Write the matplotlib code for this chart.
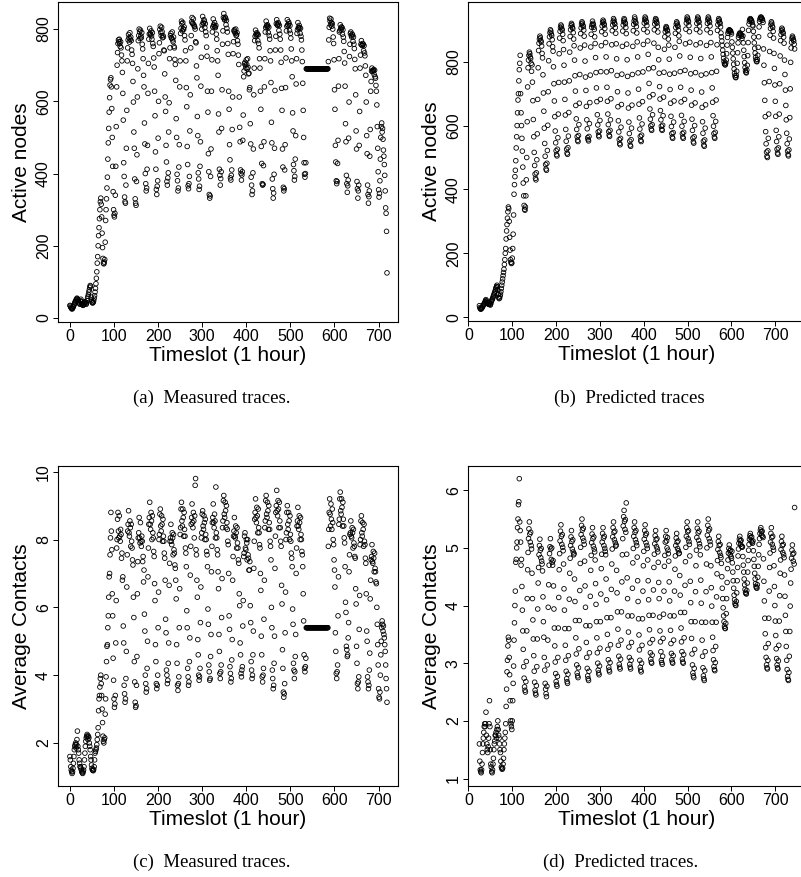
"""
Four-panel trace comparison: active nodes and average contacts per hourly
timeslot, measured (left) against predicted (right), drawn R-style with open
circle markers and a caption under every panel.
"""
import matplotlib

matplotlib.use("Agg")
import matplotlib.pyplot as plt
import numpy as np

plt.rcParams["font.family"] = ["Liberation Sans", "DejaVu Sans"]

# measured traces start at timeslot 0, predictions start after one day of history
MEASURED_START = 0
PREDICTED_START = 25

# one row per day (24 hourly values)
active_measured = [
    35, 33, 30, 28, 26, 25, 27, 30, 32, 36, 38, 42, 45, 47, 50, 52, 55, 53, 50, 48, 45, 42, 40, 38,
    48, 52, 45, 40, 38, 36, 35, 37, 40, 42, 45, 44, 40, 38, 42, 48, 55, 60, 65, 72, 78, 85, 90, 88,
    58, 50, 45, 42, 42, 44, 48, 55, 62, 72, 82, 95, 110, 128, 152, 170, 200, 228, 250, 275, 300, 322, 332, 315,
    280, 235, 195, 165, 152, 150, 155, 162, 210, 270, 300, 330, 360, 390, 440, 485, 525, 570, 610, 645, 660, 665, 640, 580,
    500, 420, 350, 300, 285, 280, 290, 340, 420, 530, 640, 700, 735, 760, 770, 765, 772, 760, 752, 765, 748, 728, 712, 680,
    622, 548, 430, 392, 335, 322, 318, 368, 470, 575, 712, 748, 770, 785, 776, 764, 790, 772, 778, 768, 742, 730, 705, 655,
    598, 515, 470, 385, 330, 318, 312, 378, 452, 612, 690, 768, 782, 800, 792, 774, 797, 781, 776, 790, 758, 745, 718, 672,
    640, 540, 482, 400, 372, 352, 360, 412, 478, 622, 705, 772, 786, 802, 788, 785, 795, 781, 772, 790, 760, 752, 720, 695,
    628, 560, 460, 412, 356, 342, 365, 380, 498, 600, 732, 762, 799, 808, 791, 782, 805, 793, 776, 782, 778, 742, 740, 676,
    612, 572, 478, 432, 378, 368, 388, 402, 515, 596, 718, 748, 782, 788, 776, 774, 792, 770, 765, 778, 752, 748, 716, 702,
    658, 552, 500, 398, 380, 352, 360, 418, 480, 640, 712, 788, 802, 822, 815, 795, 818, 801, 799, 806, 782, 770, 740, 712,
    638, 585, 475, 425, 366, 358, 372, 392, 518, 618, 748, 782, 820, 832, 816, 815, 828, 812, 808, 806, 800, 765, 762, 698,
    665, 558, 505, 402, 385, 356, 365, 420, 488, 642, 722, 800, 812, 835, 818, 815, 826, 822, 804, 815, 792, 782, 750, 725,
    628, 570, 455, 405, 342, 332, 338, 392, 468, 628, 715, 792, 806, 828, 812, 808, 818, 806, 804, 810, 786, 772, 740, 712,
    672, 565, 515, 412, 395, 368, 386, 405, 525, 632, 758, 795, 832, 843, 828, 825, 833, 830, 812, 824, 802, 792, 760, 730,
    628, 578, 480, 438, 388, 382, 395, 410, 522, 612, 732, 765, 795, 798, 792, 788, 800, 782, 784, 790, 768, 758, 728, 702,
    612, 528, 488, 410, 400, 382, 396, 405, 492, 562, 668, 684, 704, 708, 700, 692, 715, 702, 690, 718, 694, 676, 678, 632,
    638, 538, 482, 390, 368, 342, 352, 402, 468, 618, 692, 768, 780, 797, 786, 782, 790, 786, 768, 784, 760, 748, 718, 692,
    628, 578, 475, 428, 372, 368, 370, 422, 488, 640, 718, 792, 804, 822, 810, 806, 812, 808, 790, 805, 782, 772, 740, 712,
    652, 542, 485, 385, 358, 332, 346, 398, 470, 630, 742, 780, 815, 826, 812, 810, 818, 814, 796, 810, 786, 772, 742, 708,
    636, 575, 468, 418, 362, 352, 358, 410, 480, 638, 720, 795, 808, 826, 812, 810, 820, 815, 796, 810, 788, 775, 745, 712,
    668, 568, 518, 425, 408, 382, 392, 440, 505, 648, 718, 788, 798, 818, 804, 802, 810, 804, 788, 802, 780, 770, 742, 710,
    650, 575, 500, 430, 398, 390, 400, 430, 690, 690, 690, 690, 690, 690, 690, 690, 690, 690, 690, 690, 690, 690, 690, 690,
    690, 690, 690, 690, 690, 690, 690, 690, 690, 690, 690, 690, 690, 690, 690, 690, 690, 690, 690, 690, 690, 690, 690, 690,
    690, 690, 690, 690, 690, 690, 690, 690, 690, 690, 710, 770, 805, 830, 822, 812, 828, 818, 808, 815, 800, 778, 760, 715,
    632, 578, 478, 432, 380, 372, 378, 428, 492, 642, 718, 792, 796, 812, 802, 798, 806, 804, 786, 798, 778, 766, 738, 706,
    642, 538, 488, 395, 372, 348, 366, 382, 498, 598, 724, 758, 788, 792, 782, 778, 786, 784, 766, 778, 758, 746, 716, 690,
    618, 518, 468, 378, 358, 332, 352, 368, 478, 572, 692, 728, 758, 768, 756, 754, 760, 758, 740, 754, 734, 726, 698, 672,
    598, 505, 455, 368, 342, 318, 336, 352, 448, 522, 628, 655, 684, 692, 682, 684, 686, 688, 674, 686, 668, 664, 644, 628,
    590, 530, 470, 405, 355, 335, 345, 380, 440, 500, 530, 540, 515, 525, 495, 465, 448, 425, 395, 352, 305, 290, 240, 125,
]

active_predicted = [
    36, 30, 27, 25, 26, 28, 30, 32, 35, 38, 40, 42, 45, 48, 52, 55, 50, 47, 45, 44, 42, 40, 42, 45,
    40, 38, 42, 48, 52, 55, 58, 62, 66, 70, 74, 78, 82, 88, 92, 96, 100, 95, 85, 72, 62, 58, 60, 66,
    72, 80, 90, 100, 110, 120, 130, 140, 150, 165, 180, 200, 215, 245, 270, 290, 310, 330, 345, 340, 300, 250, 210, 180,
    172, 168, 170, 185, 215, 260, 320, 385, 415, 440, 460, 490, 530, 565, 600, 640, 680, 700, 740, 775, 795, 820, 700, 640,
    600, 560, 520, 470, 420, 380, 350, 338, 335, 345, 380, 430, 500, 612, 721, 781, 805, 820, 830, 825, 815, 810, 795, 770,
    790, 736, 678, 619, 565, 516, 475, 448, 435, 430, 452, 493, 574, 682, 781, 835, 858, 871, 880, 875, 866, 862, 849, 826,
    812, 759, 702, 645, 592, 544, 504, 478, 464, 460, 482, 522, 601, 706, 803, 856, 878, 891, 900, 896, 887, 882, 869, 847,
    833, 784, 731, 677, 628, 583, 546, 521, 509, 505, 526, 562, 636, 735, 825, 874, 895, 907, 915, 911, 903, 899, 886, 866,
    838, 789, 736, 682, 633, 588, 551, 526, 514, 510, 531, 567, 641, 740, 830, 879, 900, 912, 920, 916, 908, 904, 891, 871,
    850, 805, 756, 708, 663, 621, 588, 565, 554, 550, 569, 603, 670, 760, 843, 888, 906, 918, 925, 921, 914, 910, 899, 880,
    852, 802, 752, 710, 660, 618, 590, 562, 556, 552, 566, 606, 672, 758, 846, 886, 908, 916, 927, 920, 916, 908, 901, 878,
    857, 813, 766, 718, 675, 634, 602, 580, 569, 565, 583, 616, 682, 769, 850, 894, 912, 923, 930, 926, 919, 915, 904, 886,
    860, 815, 768, 720, 676, 636, 603, 581, 570, 566, 585, 618, 684, 772, 853, 897, 915, 926, 935, 930, 922, 918, 907, 889,
    856, 809, 757, 706, 659, 615, 580, 556, 544, 540, 560, 595, 666, 761, 848, 896, 915, 927, 935, 931, 923, 919, 907, 888,
    855, 806, 754, 702, 655, 611, 575, 551, 539, 535, 556, 592, 664, 760, 848, 897, 917, 928, 940, 934, 925, 921, 910, 890,
    862, 815, 765, 714, 667, 624, 589, 566, 554, 550, 570, 605, 675, 768, 854, 901, 921, 932, 940, 936, 928, 924, 913, 893,
    865, 823, 778, 732, 690, 652, 620, 599, 589, 585, 603, 634, 697, 781, 858, 900, 918, 928, 935, 932, 925, 921, 911, 893,
    845, 806, 764, 722, 683, 647, 618, 598, 588, 585, 601, 631, 689, 767, 839, 878, 894, 904, 910, 907, 900, 897, 887, 871,
    852, 808, 761, 713, 670, 629, 597, 575, 564, 560, 578, 611, 677, 764, 845, 889, 907, 918, 925, 921, 914, 910, 899, 881,
    864, 818, 769, 720, 674, 632, 598, 575, 564, 560, 579, 613, 682, 773, 856, 902, 921, 932, 940, 936, 929, 925, 913, 894,
    861, 814, 762, 711, 664, 620, 585, 561, 549, 545, 565, 600, 671, 766, 853, 901, 920, 932, 940, 936, 928, 924, 912, 893,
    859, 810, 758, 705, 657, 612, 576, 551, 539, 535, 555, 592, 665, 762, 851, 900, 920, 932, 940, 936, 928, 924, 912, 891,
    860, 815, 766, 718, 673, 631, 598, 575, 564, 560, 579, 613, 680, 770, 853, 898, 916, 928, 935, 931, 924, 920, 909, 890,
    878, 865, 851, 836, 823, 811, 801, 794, 791, 790, 796, 805, 825, 852, 876, 889, 895, 898, 900, 899, 897, 896, 892, 887,
    862, 845, 827, 809, 792, 777, 764, 756, 751, 750, 757, 770, 795, 828, 859, 876, 883, 887, 890, 889, 886, 884, 880, 873,
    901, 881, 859, 836, 816, 797, 782, 772, 767, 765, 774, 789, 819, 860, 898, 918, 927, 932, 935, 933, 930, 928, 923, 915,
    912, 895, 877, 859, 842, 827, 814, 806, 801, 800, 807, 820, 845, 878, 909, 926, 933, 937, 940, 939, 936, 934, 930, 923,
    840, 789, 734, 679, 628, 581, 543, 517, 504, 500, 521, 560, 636, 738, 832, 883, 904, 917, 925, 921, 912, 908, 895, 874,
    826, 779, 727, 676, 629, 585, 550, 526, 514, 510, 530, 565, 636, 731, 818, 866, 885, 897, 905, 901, 893, 889, 877, 858,
    805, 760, 711, 663, 618, 576, 543, 520, 509, 505, 524, 558, 625, 715, 798, 843, 861, 873, 880, 876, 869, 865, 855, 840,
]

contacts_measured = [
    1.6, 1.5, 1.3, 1.2, 1.15, 1.1, 1.15, 1.25, 1.4, 1.6, 1.8, 1.9, 1.95, 2.0, 1.85, 1.95, 2.1, 2.35, 1.9, 1.8, 1.7, 1.5, 1.4, 1.3,
    1.3, 1.25, 1.2, 1.15, 1.12, 1.1, 1.15, 1.2, 1.3, 1.5, 1.7, 1.9, 2.05, 2.15, 2.2, 2.25, 2.2, 2.1, 2.2, 2.15, 2.0, 1.9, 1.8, 1.6,
    1.5, 1.35, 1.25, 1.2, 1.2, 1.18, 1.22, 1.3, 1.5, 1.7, 1.75, 1.8, 1.85, 1.95, 2.1, 2.25, 2.45, 2.95, 3.3, 3.4, 3.65, 3.9, 4.0, 3.75,
    3.4, 3.0, 2.6, 2.2, 2.05, 2.0, 2.1, 2.15, 2.85, 3.3, 3.95, 4.4, 4.85, 4.9, 5.4, 5.75, 6.3, 6.9, 7.0, 7.55, 8.05, 8.8, 8.25, 7.7,
    6.4, 5.75, 4.5, 3.85, 3.3, 3.05, 3.15, 3.4, 4.95, 6.2, 7.75, 8.0, 8.6, 8.8, 8.25, 8.05, 8.7, 8.1, 7.95, 8.3, 8.15, 7.45, 7.6, 6.8,
    6.9, 5.45, 4.95, 3.7, 3.45, 3.2, 3.3, 3.9, 4.7, 6.6, 7.55, 8.25, 8.45, 8.85, 8.2, 8.1, 8.55, 8.35, 7.8, 8.45, 7.95, 7.75, 7.4, 7.25,
    6.3, 5.7, 4.4, 3.8, 3.2, 3.05, 3.1, 3.7, 4.55, 6.4, 7.35, 8.05, 8.2, 8.65, 8.05, 7.9, 8.5, 7.95, 7.8, 8.1, 7.95, 7.35, 7.5, 6.75,
    7.1, 5.8, 5.3, 4.0, 3.75, 3.5, 3.6, 4.2, 5.0, 6.9, 7.75, 8.45, 8.65, 9.1, 8.45, 8.3, 8.8, 8.55, 8.0, 8.7, 8.2, 8.05, 7.65, 7.5,
    6.7, 6.2, 4.9, 4.4, 3.75, 3.6, 3.7, 4.0, 5.4, 6.45, 8.0, 8.15, 8.75, 8.9, 8.4, 8.25, 8.7, 8.45, 7.95, 8.6, 8.1, 7.95, 7.6, 7.45,
    6.8, 5.65, 5.25, 4.15, 4.0, 3.75, 3.85, 4.35, 4.95, 6.65, 7.3, 7.95, 8.05, 8.45, 7.95, 7.85, 8.2, 8.05, 7.55, 8.15, 7.7, 7.6, 7.25, 7.15,
    6.8, 6.25, 4.9, 4.35, 3.7, 3.55, 3.75, 3.95, 5.4, 6.55, 8.15, 8.35, 8.9, 9.1, 8.55, 8.4, 8.9, 8.65, 8.1, 8.8, 8.3, 8.1, 7.75, 7.6,
    7.2, 5.9, 5.4, 4.2, 3.95, 3.7, 3.8, 4.4, 5.1, 6.95, 7.8, 8.45, 8.65, 9.05, 8.5, 8.35, 8.8, 8.55, 8.05, 8.7, 9.6, 9.8, 7.7, 7.55,
    6.8, 6.3, 5.05, 4.6, 4.0, 3.85, 3.95, 4.2, 5.55, 6.6, 8.05, 8.2, 8.75, 8.85, 8.4, 8.3, 8.7, 8.5, 8.0, 8.6, 8.15, 8.0, 7.65, 7.55,
    7.2, 5.95, 5.5, 4.3, 4.1, 3.85, 3.9, 4.55, 5.2, 7.05, 7.8, 8.5, 8.65, 9.05, 8.5, 8.35, 8.75, 8.55, 8.05, 9.55, 8.2, 8.05, 7.7, 7.55,
    7.05, 6.55, 5.2, 4.7, 4.05, 3.9, 4.1, 4.3, 5.7, 6.85, 8.35, 8.55, 9.15, 9.3, 8.75, 8.65, 9.1, 8.85, 8.35, 9.0, 8.5, 8.3, 7.95, 7.85,
    7.0, 5.75, 5.35, 4.25, 4.05, 3.8, 3.9, 4.45, 5.05, 6.8, 7.5, 8.1, 8.25, 8.65, 8.1, 8.05, 8.4, 8.2, 7.75, 8.35, 7.9, 7.75, 7.4, 7.3,
    6.4, 6.05, 4.95, 4.6, 4.05, 3.95, 4.15, 4.25, 5.45, 6.2, 7.5, 7.6, 8.1, 8.2, 7.75, 7.7, 8.0, 7.9, 7.4, 8.0, 7.55, 7.45, 7.1, 7.1,
    7.35, 6.05, 5.55, 4.4, 4.15, 3.9, 4.0, 4.6, 5.3, 7.15, 7.95, 8.6, 8.8, 9.2, 8.65, 8.5, 8.95, 8.7, 8.2, 8.9, 8.35, 8.2, 7.85, 7.75,
    7.0, 6.5, 5.15, 4.6, 3.95, 3.8, 4.0, 4.2, 5.65, 6.8, 8.35, 8.55, 9.15, 9.3, 8.75, 8.65, 9.1, 8.85, 8.3, 9.0, 8.5, 8.3, 7.95, 7.8,
    7.4, 6.0, 5.4, 4.15, 3.9, 3.6, 3.7, 4.35, 5.15, 7.15, 8.1, 8.8, 9.0, 9.45, 8.85, 8.7, 9.15, 8.9, 8.35, 9.1, 8.55, 8.35, 7.95, 7.8,
    6.65, 6.1, 4.75, 4.2, 3.5, 3.35, 3.45, 3.75, 5.25, 6.45, 8.0, 8.2, 8.8, 9.0, 8.45, 8.3, 8.8, 8.55, 8.0, 8.7, 8.15, 7.95, 7.6, 7.45,
    7.2, 5.95, 5.5, 4.35, 4.15, 3.9, 4.1, 4.55, 5.2, 7.0, 7.75, 8.4, 8.55, 8.95, 8.4, 8.3, 8.7, 8.5, 8.0, 8.65, 8.15, 8.0, 7.65, 7.55,
    7.2, 6.4, 5.6, 4.6, 4.2, 4.1, 4.25, 4.5, 5.4, 5.4, 5.4, 5.4, 5.4, 5.4, 5.4, 5.4, 5.4, 5.4, 5.4, 5.4, 5.4, 5.4, 5.4, 5.4,
    5.4, 5.4, 5.4, 5.4, 5.4, 5.4, 5.4, 5.4, 5.4, 5.4, 5.4, 5.4, 5.4, 5.4, 5.4, 5.4, 5.4, 5.4, 5.4, 5.4, 5.4, 5.4, 5.4, 5.4,
    5.4, 5.4, 5.4, 5.4, 5.4, 5.4, 5.4, 5.4, 5.4, 5.4, 7.8, 8.3, 8.8, 9.2, 8.75, 8.4, 9.05, 8.6, 8.3, 8.9, 8.5, 8.0, 7.85, 7.4,
    7.1, 6.6, 5.25, 4.7, 4.05, 3.9, 4.1, 4.3, 5.75, 6.9, 8.45, 8.6, 9.2, 9.4, 8.85, 8.75, 9.2, 8.95, 8.4, 9.1, 8.6, 8.4, 8.05, 7.9,
    7.2, 6.15, 5.85, 4.85, 4.75, 4.55, 4.6, 5.1, 5.55, 7.05, 7.55, 8.15, 8.2, 8.55, 8.1, 8.05, 8.35, 8.2, 7.75, 8.3, 7.9, 7.8, 7.5, 7.45,
    6.55, 6.1, 4.85, 4.35, 3.75, 3.6, 3.8, 3.95, 5.35, 6.35, 7.85, 8.0, 8.55, 8.7, 8.2, 8.1, 8.5, 8.3, 7.8, 8.45, 7.95, 7.85, 7.45, 7.3,
    6.4, 5.3, 5.0, 3.95, 3.8, 3.6, 3.7, 4.15, 4.65, 6.25, 6.8, 7.4, 7.5, 7.85, 7.35, 7.3, 7.65, 7.45, 7.05, 7.6, 7.15, 7.05, 6.75, 6.7,
    6.0, 5.5, 4.9, 4.3, 3.6, 3.35, 3.3, 3.5, 4.0, 4.6, 5.0, 5.4, 5.6, 5.5, 5.3, 5.45, 5.2, 5.1, 4.9, 4.7, 4.3, 3.9, 3.6, 3.2,
]

contacts_predicted = [
    1.6, 1.3, 1.15, 1.12, 1.1, 1.15, 1.25, 1.45, 1.6, 1.7, 1.8, 1.9, 1.95, 1.9, 1.95, 2.15, 1.75, 1.6, 1.5, 1.45, 1.55, 1.7, 1.95, 2.35,
    1.9, 1.5, 1.25, 1.2, 1.12, 1.1, 1.15, 1.25, 1.35, 1.5, 1.6, 1.65, 1.75, 1.75, 1.8, 1.7, 1.85, 1.9, 2.0, 1.85, 1.75, 1.7, 1.6, 1.5,
    1.45, 1.3, 1.2, 1.18, 1.16, 1.18, 1.25, 1.35, 1.5, 1.6, 1.7, 1.8, 1.95, 2.25, 2.55, 2.85, 3.05, 3.3, 3.45, 3.4, 3.1, 2.8, 2.35, 2.0,
    1.95, 1.9, 1.85, 2.0, 2.35, 2.65, 2.95, 3.4, 3.7, 4.0, 4.25, 4.75, 4.8, 5.0, 5.1, 5.35, 5.5, 5.75, 5.8, 6.2, 5.45, 5.3, 5.1, 4.7,
    4.8, 4.33, 3.92, 3.56, 3.24, 2.94, 2.74, 2.59, 2.53, 2.5, 2.68, 3.03, 3.56, 4.12, 4.62, 4.92, 5.16, 5.33, 5.45, 5.24, 5.1, 5.27, 5.04, 4.98,
    4.56, 4.12, 3.75, 3.42, 3.13, 2.86, 2.67, 2.53, 2.48, 2.45, 2.61, 2.94, 3.42, 3.94, 4.39, 4.66, 4.88, 5.04, 5.15, 4.96, 4.83, 4.99, 4.77, 4.72,
    4.6, 4.15, 3.72, 3.45, 3.1, 2.88, 2.65, 2.55, 2.47, 2.42, 2.6, 2.97, 3.4, 3.97, 4.36, 4.7, 4.9, 5.02, 5.16, 4.98, 4.8, 5.0, 4.75, 4.7,
    4.78, 4.34, 3.94, 3.61, 3.3, 3.02, 2.82, 2.68, 2.63, 2.6, 2.77, 3.1, 3.61, 4.14, 4.62, 4.9, 5.12, 5.29, 5.4, 5.2, 5.06, 5.23, 5.01, 4.95,
    4.72, 4.29, 3.92, 3.6, 3.31, 3.05, 2.86, 2.73, 2.68, 2.65, 2.81, 3.13, 3.6, 4.11, 4.56, 4.82, 5.04, 5.19, 5.3, 5.11, 4.98, 5.14, 4.93, 4.88,
    4.9, 4.46, 4.07, 3.74, 3.44, 3.16, 2.97, 2.83, 2.78, 2.75, 2.92, 3.25, 3.74, 4.26, 4.73, 5.01, 5.23, 5.39, 5.5, 5.31, 5.17, 5.34, 5.12, 5.06,
    4.77, 4.34, 3.97, 3.65, 3.36, 3.1, 2.91, 2.78, 2.73, 2.7, 2.86, 3.18, 3.65, 4.16, 4.61, 4.87, 5.09, 5.24, 5.35, 5.16, 5.03, 5.19, 4.98, 4.93,
    4.79, 4.38, 4.02, 3.72, 3.44, 3.18, 3.0, 2.88, 2.83, 2.8, 2.95, 3.26, 3.72, 4.2, 4.64, 4.89, 5.1, 5.25, 5.35, 5.17, 5.04, 5.2, 4.99, 4.94,
    4.88, 4.46, 4.1, 3.79, 3.5, 3.24, 3.06, 2.93, 2.88, 2.85, 3.01, 3.32, 3.79, 4.28, 4.72, 4.98, 5.19, 5.35, 5.45, 5.27, 5.14, 5.29, 5.09, 5.03,
    5.05, 4.61, 4.22, 3.89, 3.59, 3.31, 3.12, 2.98, 2.93, 2.9, 3.07, 3.4, 3.89, 4.41, 4.88, 5.16, 5.38, 5.54, 5.65, 5.46, 5.32, 5.49, 5.27, 5.78,
    4.89, 4.48, 4.12, 3.82, 3.54, 3.28, 3.1, 2.98, 2.93, 2.9, 3.05, 3.36, 3.82, 4.3, 4.74, 4.99, 5.2, 5.35, 5.45, 5.27, 5.14, 5.3, 5.09, 5.04,
    4.84, 4.43, 4.07, 3.77, 3.49, 3.23, 3.05, 2.93, 2.88, 2.85, 3.0, 3.31, 3.77, 4.25, 4.69, 4.94, 5.15, 5.3, 5.4, 5.22, 5.09, 5.25, 5.04, 4.99,
    4.79, 4.43, 4.1, 3.83, 3.58, 3.35, 3.18, 3.07, 3.02, 3.0, 3.14, 3.41, 3.83, 4.27, 4.66, 4.89, 5.07, 5.21, 5.3, 5.14, 5.02, 5.16, 4.98, 4.93,
    4.75, 4.4, 4.12, 3.8, 3.56, 3.37, 3.2, 3.05, 3.01, 2.98, 3.12, 3.43, 3.85, 4.25, 4.68, 4.87, 5.1, 5.2, 5.3, 5.12, 5.0, 5.18, 4.96, 4.9,
    4.77, 4.41, 4.08, 3.82, 3.57, 3.34, 3.17, 3.06, 3.02, 3.0, 3.13, 3.4, 3.82, 4.25, 4.63, 4.86, 5.04, 5.17, 5.25, 5.1, 4.99, 5.12, 4.95, 4.9,
    4.91, 4.52, 4.18, 3.88, 3.61, 3.37, 3.2, 3.07, 3.02, 3.0, 3.15, 3.44, 3.88, 4.35, 4.76, 5.01, 5.2, 5.35, 5.45, 5.28, 5.16, 5.3, 5.11, 5.06,
    4.86, 4.42, 4.05, 3.72, 3.43, 3.16, 2.97, 2.83, 2.78, 2.75, 2.91, 3.24, 3.72, 4.24, 4.69, 4.96, 5.18, 5.34, 5.45, 5.26, 5.13, 5.29, 5.07, 5.02,
    4.88, 4.44, 4.04, 3.71, 3.4, 3.12, 2.92, 2.78, 2.73, 2.7, 2.87, 3.2, 3.71, 4.24, 4.72, 5.0, 5.22, 5.39, 5.5, 5.3, 5.16, 5.33, 5.11, 5.05,
    4.69, 4.31, 3.99, 3.71, 3.45, 3.22, 3.06, 2.94, 2.89, 2.87, 3.01, 3.29, 3.71, 4.15, 4.55, 4.78, 4.97, 5.11, 5.2, 5.04, 4.92, 5.06, 4.87, 4.83,
    4.73, 4.5, 4.3, 4.12, 3.96, 3.82, 3.72, 3.64, 3.61, 3.6, 3.69, 3.86, 4.12, 4.4, 4.64, 4.79, 4.91, 4.99, 5.05, 4.95, 4.88, 4.96, 4.85, 4.82,
    4.94, 4.74, 4.58, 4.43, 4.3, 4.18, 4.1, 4.04, 4.01, 4.0, 4.07, 4.22, 4.43, 4.66, 4.86, 4.98, 5.08, 5.15, 5.2, 5.12, 5.06, 5.13, 5.03, 5.01,
    5.02, 4.85, 4.7, 4.58, 4.46, 4.36, 4.28, 4.23, 4.21, 4.2, 4.26, 4.39, 4.58, 4.78, 4.96, 5.06, 5.15, 5.21, 5.25, 5.18, 5.12, 5.19, 5.1, 5.08,
    5.12, 4.95, 4.8, 4.68, 4.56, 4.46, 4.38, 4.33, 4.31, 4.3, 4.36, 4.49, 4.68, 4.88, 5.06, 5.16, 5.25, 5.31, 5.35, 5.28, 5.22, 5.29, 5.2, 5.18,
    4.81, 4.42, 4.08, 3.78, 3.51, 3.27, 3.1, 2.97, 2.92, 2.9, 3.05, 3.34, 3.78, 4.25, 4.66, 4.91, 5.1, 5.25, 5.35, 5.18, 5.06, 5.2, 5.01, 4.96,
    4.69, 4.33, 4.0, 3.73, 3.48, 3.25, 3.08, 2.97, 2.92, 2.9, 3.04, 3.31, 3.73, 4.17, 4.56, 4.79, 4.97, 5.11, 5.2, 5.04, 4.92, 5.06, 4.88, 4.83,
    4.53, 4.16, 3.83, 3.55, 3.29, 3.05, 2.89, 2.77, 2.72, 2.7, 2.84, 3.12, 3.55, 3.99, 4.39, 4.63, 4.82, 4.96, 5.05, 4.89, 4.77, 4.91, 4.72, 5.7,
]

x_ticks = [0, 100, 200, 300, 400, 500, 600, 700]
active_ticks = [0, 200, 400, 600, 800]
contacts_measured_ticks = [2, 4, 6, 8, 10]
contacts_predicted_ticks = [1, 2, 3, 4, 5, 6]

captions = ["(a)  Measured traces.", "(b)  Predicted traces",
            "(c)  Measured traces.", "(d)  Predicted traces."]

FIG_W, FIG_H = 801, 877


def px_axes(fig, left, top, right, bottom):
    """Axes placed by pixel box (top/bottom measured from the top edge)."""
    return fig.add_axes([left / FIG_W, 1 - bottom / FIG_H,
                         (right - left) / FIG_W, (bottom - top) / FIG_H])


def draw_panel(ax, start, values, xlim, ylim, yticks, ylabel):
    x = np.arange(start, start + len(values))
    ax.scatter(x, values, s=11, facecolors="none", edgecolors="black",
               linewidths=0.6, zorder=3)
    ax.set_xlim(*xlim)
    ax.set_ylim(*ylim)
    ax.set_xticks(x_ticks)
    ax.set_yticks(yticks)
    ax.tick_params(direction="out", length=3.6, width=0.7, labelsize=11.5,
                   pad=1.5, colors="black")
    plt.setp(ax.get_yticklabels(), rotation=90, va="center")
    for sp in ax.spines.values():
        sp.set_linewidth(0.8)
    ax.set_xlabel("Timeslot (1 hour)", fontsize=15)
    ax.set_ylabel(ylabel, fontsize=15)
    ax.xaxis.set_label_coords(0.5, -0.075)
    ax.yaxis.set_label_coords(-0.08, 0.5)


fig = plt.figure(figsize=(FIG_W / 100, FIG_H / 100), dpi=100)

ax_a = px_axes(fig, 58, 2, 398, 322)
draw_panel(ax_a, MEASURED_START, active_measured, (-27, 744), (-11, 875),
           active_ticks, "Active nodes")

ax_b = px_axes(fig, 468, 2, 806, 321)
draw_panel(ax_b, PREDICTED_START, active_predicted, (-1, 770), (-12, 987),
           active_ticks, "Active nodes")

ax_c = px_axes(fig, 58, 466, 398, 786)
draw_panel(ax_c, MEASURED_START, contacts_measured, (-27, 744), (0.73, 10.17),
           contacts_measured_ticks, "Average Contacts")

ax_d = px_axes(fig, 468, 466, 806, 786)
draw_panel(ax_d, PREDICTED_START, contacts_predicted, (-1, 770), (0.87, 6.42),
           contacts_predicted_ticks, "Average Contacts")

caption_pos = [(212, 398), (629, 398), (212, 862), (621, 862)]
for text, (cx, cy) in zip(captions, caption_pos):
    fig.text(cx / FIG_W, 1 - cy / FIG_H, text, ha="center", va="center",
             fontsize=13.5, family=["Liberation Serif", "DejaVu Serif"])

fig.savefig("out.png", dpi=100)
